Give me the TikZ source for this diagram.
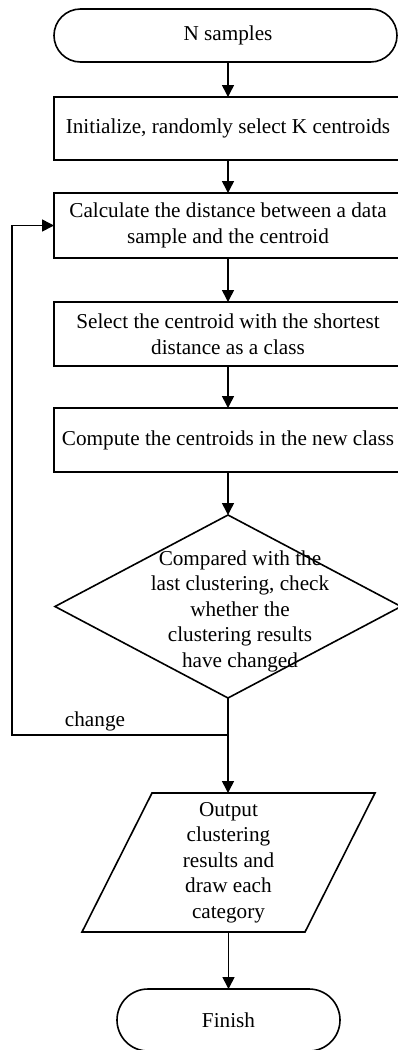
\documentclass[tikz,border=0pt]{standalone}
\usepackage{fontspec}
\setmainfont{Liberation Serif}
\usetikzlibrary{arrows.meta,shapes.geometric,shapes.misc}
\begin{document}
\begin{tikzpicture}[x=1pt,y=-1pt,
  every node/.style={font=\fontsize{21.2}{25.5}\selectfont, align=center, inner sep=0pt, outer sep=0pt},
  ln/.style={line width=1.6pt, black},
  arr/.style={ln, -{Triangle[length=12pt,width=12pt]}},
  term/.style={ln, draw, rounded rectangle, minimum height=53pt},
  procbox/.style={ln, draw, rectangle, minimum width=348pt},
  dec/.style={ln, draw, diamond, minimum width=346pt, minimum height=183pt}
]
\useasboundingbox (0,0) rectangle (398,1050);
\node[term, minimum width=343pt, minimum height=53pt] (t1) at (225.5,35.5) {\hspace*{5pt}N samples};
\node[procbox, minimum height=63pt] (b2) at (228,128.5) {Initialize, randomly select K centroids};
\node[procbox, minimum height=65pt] (b3) at (228,225.5) {Calculate the distance between a data\\ sample and the centroid};
\node[procbox, minimum height=64pt] (b4) at (228,334) {Select the centroid with the shortest\\ distance as a class};
\node[procbox, minimum height=64pt] (b5) at (228,440) {Compute the centroids in the new class};
\node[dec] (dia) at (228,606.5) {};
\node (diat) at (240,611) {Compared with the\\ last clustering, check\\ whether the\\ clustering results\\ have changed};
\coordinate (j) at (228,735);
\coordinate (lc) at (12,735);
\node (chg) at (95,721) {change};
\node[minimum width=223pt, minimum height=139pt] (outp) at (228.5,862.5) {Output\\ clustering\\ results and\\ draw each\\ category};
\draw[ln] ([xshift=35pt]outp.north west) -- ([xshift=35pt]outp.north east) -- ([xshift=-35pt]outp.south east) -- ([xshift=-35pt]outp.south west) -- cycle;
\node[term, minimum width=223pt, minimum height=62pt] (fin) at (228.5,1020) {Finish};
\draw[arr] (t1.south -| b2.north) -- (b2.north);
\draw[arr] (b2) -- (b3);
\draw[arr] (b3) -- (b4);
\draw[arr] (b4) -- (b5);
\draw[arr] (b5) -- (dia);
\draw[ln] (dia.south) -- (j);
\draw[arr] (j) -- (lc) |- (b3.west);
\draw[arr] (j) -- (j |- outp.north);
\draw[arr] (outp.south -| fin.north) -- (fin.north);
\end{tikzpicture}
\end{document}
